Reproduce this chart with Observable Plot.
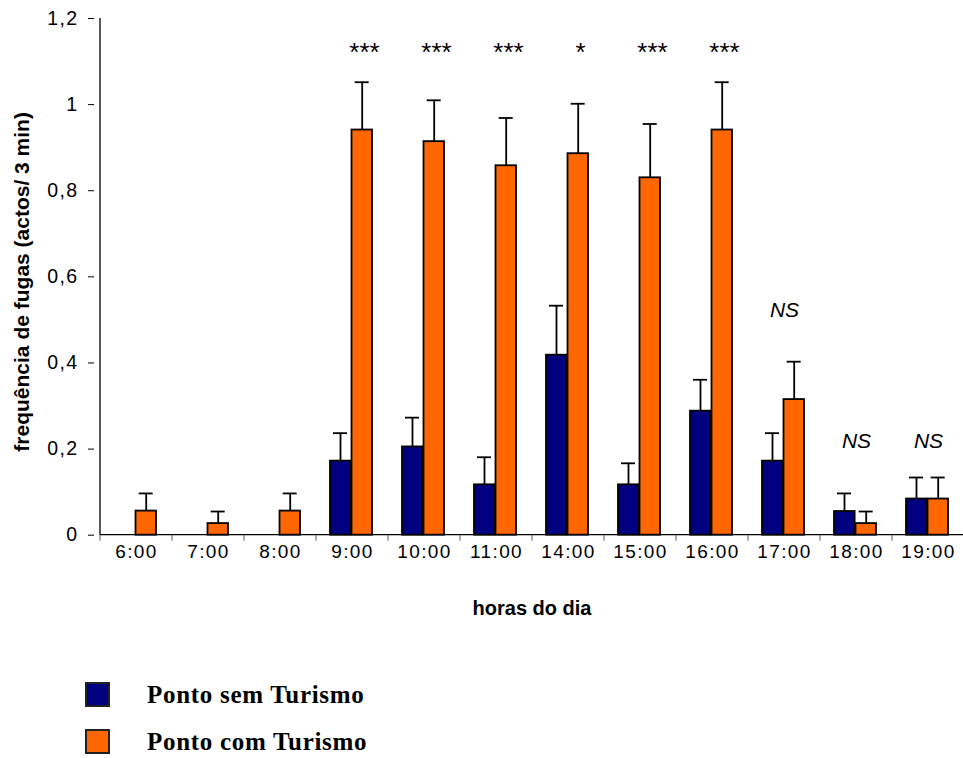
<!DOCTYPE html>
<html>
<head>
<meta charset="utf-8">
<script src="https://cdn.jsdelivr.net/npm/d3@7"></script>
<script src="https://cdn.jsdelivr.net/npm/@observablehq/plot@0.6"></script>
<style>
  html, body { margin: 0; padding: 0; background: #fff; width: 963px; height: 758px; overflow: hidden; }
  #chart { position: absolute; left: 0; top: 0; }
  #chart svg { overflow: visible; font-family: "Liberation Sans", Arial, sans-serif; }
  g[aria-label="x-axis tick label"] text,
  g[aria-label="y-axis tick label"] text { letter-spacing: 1.4px; }
  g[aria-label="sig"] text { letter-spacing: 1px; }
  g[aria-label="axis title"] text { letter-spacing: 0.9px; }
  g[aria-label="y title"] text { letter-spacing: 1.4px; }
  .leg { position: absolute; left: 0; top: 0; font-family: "Liberation Serif", "Times New Roman", serif; font-weight: bold; font-size: 25px; letter-spacing: 0.7px; color: #000; }
  .sw { position: absolute; width: 25px; height: 25px; box-sizing: border-box; border: 2px solid #222; }
  .lt { position: absolute; white-space: nowrap; line-height: 26px; }
</style>
</head>
<body>
<div id="chart"></div>
<div class="leg" id="legend"></div>
<script>
// ---- data ----
const hours = ["6:00","7:00","8:00","9:00","10:00","11:00","14:00","15:00","16:00","17:00","18:00","19:00"];
const semMean = [0, 0, 0, 0.172, 0.205, 0.117, 0.418, 0.117, 0.288, 0.172, 0.055, 0.084];
const semErr  = [0, 0, 0, 0.065, 0.068, 0.064, 0.115, 0.050, 0.073, 0.065, 0.042, 0.050];
const comMean = [0.056, 0.027, 0.056, 0.941, 0.914, 0.858, 0.886, 0.830, 0.941, 0.315, 0.027, 0.084];
const comErr  = [0.041, 0.028, 0.041, 0.111, 0.096, 0.111, 0.116, 0.125, 0.111, 0.088, 0.028, 0.050];
const yTicks = [0, 0.2, 0.4, 0.6, 0.8, 1, 1.2];
const seriesNames = ["Ponto sem Turismo", "Ponto com Turismo"];
const seriesColors = ["#000080", "#FF6600"];
const sigHours = ["9:00","10:00","11:00","14:00","15:00","16:00"];
const sigLabels = ["***","***","***","*","***","***"];
const sigY = [1.12, 1.12, 1.12, 1.12, 1.12, 1.12];
const nsHours = ["17:00","18:00","19:00"];
const nsLabels = ["NS","NS","NS"];
const nsY = [0.522, 0.218, 0.218];
const xTitle = "horas do dia";
const yTitle = "frequência de fugas (actos/ 3 min)";

// ---- tables ----
const rows = hours.map((h, i) => ({hour: h, sem: semMean[i], semE: semErr[i], com: comMean[i], comE: comErr[i]}));
const semErrRows = rows.filter(d => d.semE > 0);
const comErrRows = rows.filter(d => d.comE > 0);
const sigRows = sigHours.map((h, i) => ({hour: h, label: sigLabels[i], y: sigY[i]}));
const nsRows = nsHours.map((h, i) => ({hour: h, label: nsLabels[i], y: nsY[i]}));

function axisLines(index, scales, values, dimensions) {
  const x = scales.x, y = scales.y;
  const bw = x.bandwidth();
  const y0 = y(0), yTop = y(yTicks[yTicks.length - 1]);
  const xl = x(hours[0]);
  const xr = x(hours[hours.length - 1]) + bw;
  const g = d3.create("svg:g").attr("aria-label", "axis lines");
  const edges = hours.map(h => x(h)).concat([xr]);
  g.selectAll(null).data(edges).join("line")
    .attr("x1", d => d).attr("x2", d => d)
    .attr("y1", y0).attr("y2", y0 + 6)
    .attr("stroke", "#777").attr("stroke-width", 1.2);
  g.append("line").attr("x1", xl).attr("x2", xl).attr("y1", yTop).attr("y2", y0)
    .attr("stroke", "#000").attr("stroke-width", 1.3);
  g.append("line").attr("x1", xl).attr("x2", xr).attr("y1", y0).attr("y2", y0)
    .attr("stroke", "#000").attr("stroke-width", 1.3);
  return g.node();
}

const chart = Plot.plot({
  width: 963,
  height: 640,
  marginLeft: 94,
  marginRight: -6,
  marginTop: 18,
  marginBottom: 105.3,
  x: {domain: hours, padding: 0, label: null},
  y: {domain: [0, 1.2], label: null},
  marks: [
    Plot.barY(rows, {x: "hour", y: "sem", fill: seriesColors[0], stroke: "#000", strokeWidth: 1.8, insetLeft: 14, insetRight: 37.4}),
    Plot.barY(rows, {x: "hour", y: "com", fill: seriesColors[1], stroke: "#000", strokeWidth: 1.8, insetLeft: 35.5, insetRight: 16}),
    Plot.ruleX(semErrRows, {x: "hour", y1: "sem", y2: d => d.sem + d.semE, dx: -12, stroke: "#000", strokeWidth: 1.8}),
    Plot.tickY(semErrRows, {x: "hour", y: d => d.sem + d.semE, insetLeft: 17, insetRight: 41, stroke: "#000", strokeWidth: 1.8}),
    Plot.ruleX(comErrRows, {x: "hour", y1: "com", y2: d => d.com + d.comE, dx: 9.7, stroke: "#000", strokeWidth: 1.8}),
    Plot.tickY(comErrRows, {x: "hour", y: d => d.com + d.comE, insetLeft: 38.7, insetRight: 19.3, stroke: "#000", strokeWidth: 1.8}),
    axisLines,
    Plot.axisY({ticks: yTicks, tickFormat: d => String(d).replace(".", ","), tickSize: 6, tickPadding: 10, fontSize: 19.5, label: null}),
    Plot.axisX({tickSize: 0, tickPadding: 9.5, fontSize: 19, label: null}),
    Plot.text(sigRows, {x: "hour", y: "y", text: "label", dx: 12, fontSize: 26, ariaLabel: "sig"}),
    Plot.text(nsRows, {x: "hour", y: "y", text: "label", fontSize: 21, fontStyle: "italic", ariaLabel: "ns"}),
    Plot.text([xTitle], {text: d => d, frameAnchor: "bottom", dy: 80, fontSize: 20, fontWeight: "bold", ariaLabel: "axis title"}),
    Plot.text([yTitle], {text: d => d, frameAnchor: "left", textAnchor: "middle", rotate: -90, dx: -72, dy: 5, fontSize: 21, fontWeight: "bold", ariaLabel: "y title"})
  ]
});
document.getElementById("chart").appendChild(chart);

// ---- legend ----
const legend = document.getElementById("legend");
const legTops = [682, 729];
seriesNames.forEach((name, i) => {
  const sw = document.createElement("div");
  sw.className = "sw";
  sw.style.left = "85px";
  sw.style.top = legTops[i] + "px";
  sw.style.background = seriesColors[i];
  legend.appendChild(sw);
  const t = document.createElement("div");
  t.className = "lt";
  t.style.left = "147px";
  t.style.top = (legTops[i] - 0.5) + "px";
  t.textContent = name;
  legend.appendChild(t);
});
</script>
</body>
</html>
